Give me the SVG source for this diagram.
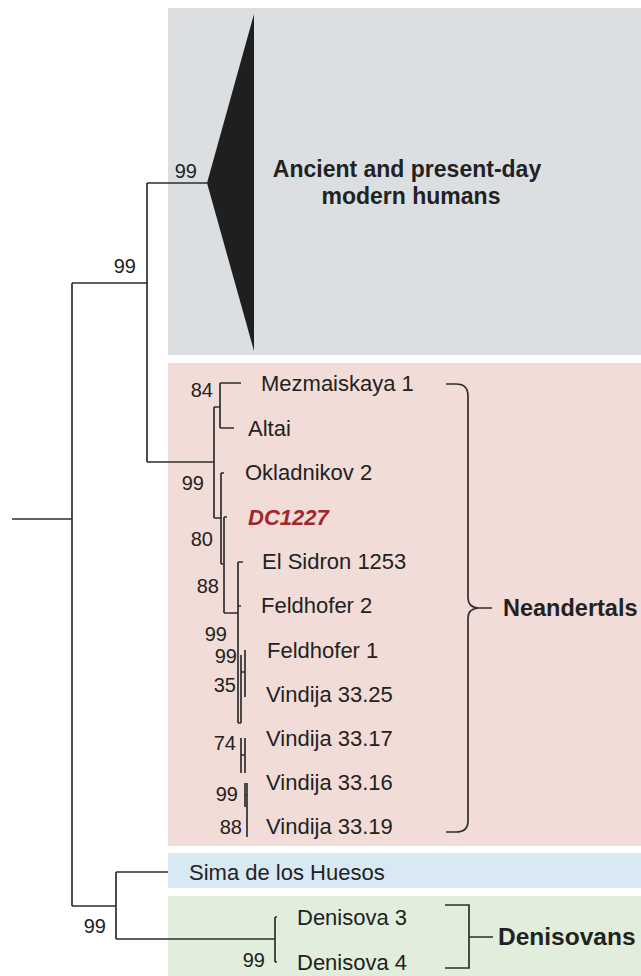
<svg xmlns="http://www.w3.org/2000/svg" width="641" height="976" viewBox="0 0 641 976">
<style>
.leaf{font-family:"Liberation Sans",Arial,sans-serif;font-size:22px;fill:#222}
.bs{font-family:"Liberation Sans",Arial,sans-serif;font-size:20px;fill:#222;text-anchor:end}
.grp{font-family:"Liberation Sans",Arial,sans-serif;font-weight:bold;fill:#222}
.br{fill:none;stroke:#2e2e2e;stroke-width:1.7}
</style>
<rect width="641" height="976" fill="#ffffff"/>
<g id="boxes">
<rect x="168" y="8" width="473" height="347" fill="#dcdfe2"/>
<rect x="168" y="363" width="473" height="483" fill="#f2dcd7"/>
<rect x="168" y="853" width="473" height="35" fill="#d9e9f3"/>
<rect x="168" y="896" width="473" height="80" fill="#e1eedc"/>
</g>
<g id="connectors" class="br">
<path d="M12,519H72M72,283V906M72,283H147M147,183V462M147,183H207M147,462H214"/>
<path d="M214,407V518M214,407H220M220,383V428M220,383H241M220,428H234"/>
<path d="M214,518H221M221,473V564M221,473H224M221,564H224M224,517V613M224,517H227M224,613H238"/>
<path d="M238,562V723M238,562H243M238,606H241M238,723H241M241,655V723M241,672H245M245,650V697"/>
<path d="M241,738V773M241,755H245M245,738V773M245,783V807M247,783V837M245,795H247"/>
<path d="M72,906H116M116,872V939M116,872H168M116,939H275M275,917V962M275,917H277M275,962H277"/>
</g>
<g id="modern-humans">
<polygon points="207,183 254,14 254,351" fill="#1f1f1f"/>
<text class="grp" font-size="23" text-anchor="middle"><tspan x="407" y="177">Ancient and present-day</tspan><tspan x="411" y="204">modern humans</tspan></text>
</g>
<g id="bootstrap">
<text class="bs" x="197" y="178">99</text>
<text class="bs" x="136" y="273">99</text>
<text class="bs" x="213" y="397">84</text>
<text class="bs" x="204" y="490">99</text>
<text class="bs" x="213" y="546">80</text>
<text class="bs" x="219" y="593">88</text>
<text class="bs" x="227" y="641">99</text>
<text class="bs" x="237" y="663">99</text>
<text class="bs" x="236" y="692">35</text>
<text class="bs" x="236" y="750">74</text>
<text class="bs" x="238" y="801">99</text>
<text class="bs" x="242" y="834">88</text>
<text class="bs" x="106" y="933">99</text>
<text class="bs" x="265" y="967">99</text>
</g>
<g id="neandertals">
<text class="leaf" x="261" y="391">Mezmaiskaya 1</text>
<text class="leaf" x="248" y="436">Altai</text>
<text class="leaf" x="245" y="480">Okladnikov 2</text>
<text class="leaf" x="248" y="525" font-weight="bold" font-style="italic" style="fill:#a3262b">DC1227</text>
<text class="leaf" x="262" y="569">El Sidron 1253</text>
<text class="leaf" x="261" y="613">Feldhofer 2</text>
<text class="leaf" x="267" y="658">Feldhofer 1</text>
<text class="leaf" x="266" y="702">Vindija 33.25</text>
<text class="leaf" x="266" y="746">Vindija 33.17</text>
<text class="leaf" x="266" y="790">Vindija 33.16</text>
<text class="leaf" x="266" y="834">Vindija 33.19</text>
<path class="br" d="M446,384H456Q468,384 468,396V598Q468,607 478,608Q468,609 468,618V821Q468,832 456,832H446M478,608H492"/>
<text class="grp" font-size="23.5" x="503" y="616">Neandertals</text>
</g>
<g id="sima">
<text class="leaf" x="189" y="880">Sima de los Huesos</text>
</g>
<g id="denisovans">
<text class="leaf" x="297" y="925">Denisova 3</text>
<text class="leaf" x="297" y="970">Denisova 4</text>
<path class="br" d="M445,905H469V968H445M469,937H493"/>
<text class="grp" font-size="24.5" x="498" y="945">Denisovans</text>
</g>
</svg>
